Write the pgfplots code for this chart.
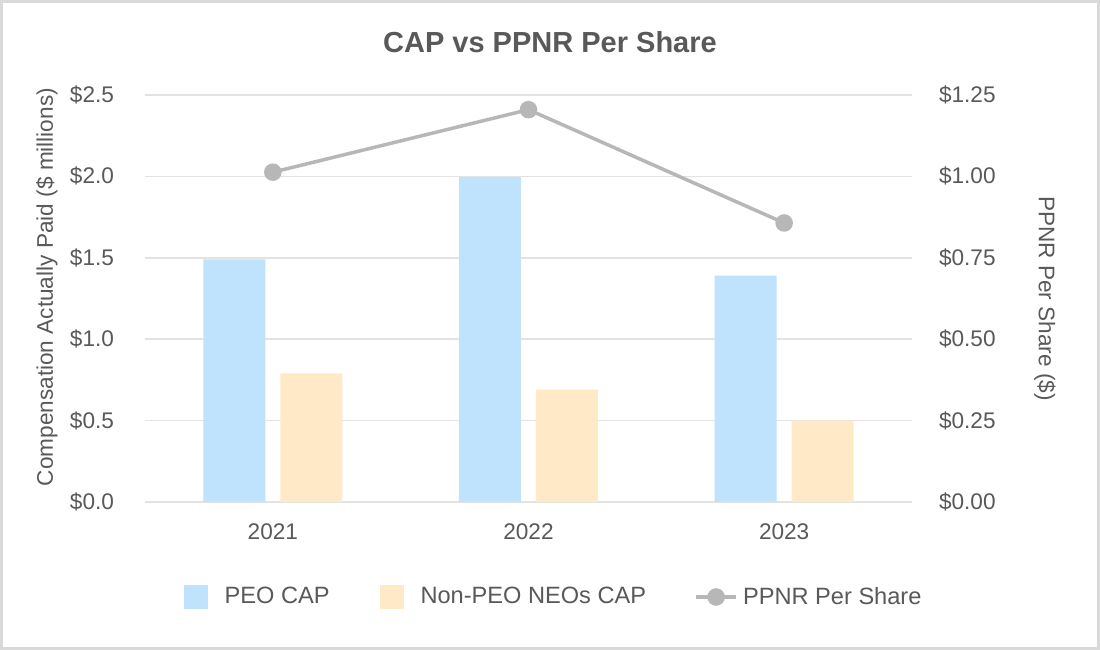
\documentclass[border=0pt]{standalone}
\usepackage{pgfplots}
\pgfplotsset{compat=1.18}
\usepackage{fontspec}
\setmainfont{Liberation Sans}
\definecolor{txt}{HTML}{595959}
\definecolor{peo}{HTML}{BFE3FD}
\definecolor{neo}{HTML}{FFE9C7}
\definecolor{ln}{HTML}{B7B7B7}
\definecolor{grd}{HTML}{E3E3E3}
\definecolor{frm}{HTML}{D9D9D9}
\begin{document}
\begin{tikzpicture}
\useasboundingbox (0,0) rectangle (550pt,325pt);
\fill[white] (0,0) rectangle (550pt,325pt);
\draw[frm, line width=1.5pt] (0.75pt,0.75pt) rectangle (549.25pt,324.25pt);
\node[font=\fontsize{14.5pt}{17pt}\selectfont\bfseries, text=txt] at (275pt,304pt) {CAP vs PPNR Per Share};
\begin{axis}[
  at={(72.5pt,74pt)}, anchor=south west,
  width=383.5pt, height=203.5pt, scale only axis,
  xmin=-0.5, xmax=2.5, ymin=0, ymax=2.5,
  axis y line*=left, axis x line*=bottom,
  axis line style={draw=none},
  xtick={0,1,2}, xticklabels={2021,2022,2023},
  ytick={0,0.5,1,1.5,2,2.5},
  yticklabels={\$0.0,\$0.5,\$1.0,\$1.5,\$2.0,\$2.5},
  major tick length=0pt,
  ymajorgrids, grid style={grd, line width=0.75pt},
  tick label style={font=\fontsize{11.3pt}{13pt}\selectfont, text=txt},
  yticklabel style={xshift=-12pt},
  xticklabel style={yshift=-7.5pt},
  ylabel={Compensation Actually Paid (\$ millions)},
  ylabel style={at={(rel axis cs:-0.1278,0.528)}, anchor=center, font=\fontsize{11.3pt}{13pt}\selectfont, text=txt},
  ybar=7.5pt, bar width=31pt,
  clip=false,
]
\addplot[fill=peo, draw=none] coordinates {(0,1.49) (1,1.995) (2,1.39)};
\addplot[fill=neo, draw=none] coordinates {(0,0.79) (1,0.69) (2,0.50)};
\end{axis}
\begin{axis}[
  at={(72.5pt,74pt)}, anchor=south west,
  width=383.5pt, height=203.5pt, scale only axis,
  xmin=-0.5, xmax=2.5, ymin=0, ymax=1.25,
  axis y line*=right, axis x line=none,
  axis line style={draw=none},
  ytick={0,0.25,0.5,0.75,1,1.25},
  yticklabels={\$0.00,\$0.25,\$0.50,\$0.75,\$1.00,\$1.25},
  major tick length=0pt,
  tick label style={font=\fontsize{11.3pt}{13pt}\selectfont, text=txt},
  yticklabel style={xshift=10pt},
  ylabel={PPNR Per Share (\$)},
  ylabel style={at={(rel axis cs:1.1734,0.5)}, anchor=center, rotate=180, font=\fontsize{11.3pt}{13pt}\selectfont, text=txt},
  clip=false,
  legend columns=3,
  legend style={at={(rel axis cs:0.534,-0.2334)}, anchor=center, draw=none, fill=none,
    font=\fontsize{11.8pt}{13.5pt}\selectfont, text=txt,
    /tikz/every odd column/.append style={column sep=6.5pt},
    /tikz/every even column/.append style={column sep=23pt}},
  legend cell align=left,
]
\addlegendimage{area legend, fill=peo, draw=none, legend image code/.code={\fill[peo] (0pt,-6pt) rectangle (12pt,6pt);}}
\addlegendentry{PEO CAP}
\addlegendimage{area legend, fill=neo, draw=none, legend image code/.code={\fill[neo] (0pt,-6pt) rectangle (12pt,6pt);}}
\addlegendentry{Non-PEO NEOs CAP}
\addplot[ln, line width=1.75pt, mark=*, mark size=3.5pt, mark options={fill=ln, draw=ln},
  legend image code/.code={\path[draw=none, fill=none] (0pt,-6pt) rectangle (15pt,6pt);
    \draw[overlay, ln, line width=1.75pt] (0pt,0pt) -- (20pt,0pt);
    \fill[overlay, ln] (10pt,0pt) circle (3.5pt);}] coordinates {(0,1.013) (1,1.205) (2,0.857)};
\addlegendentry{PPNR Per Share}
\end{axis}
\end{tikzpicture}
\end{document}
